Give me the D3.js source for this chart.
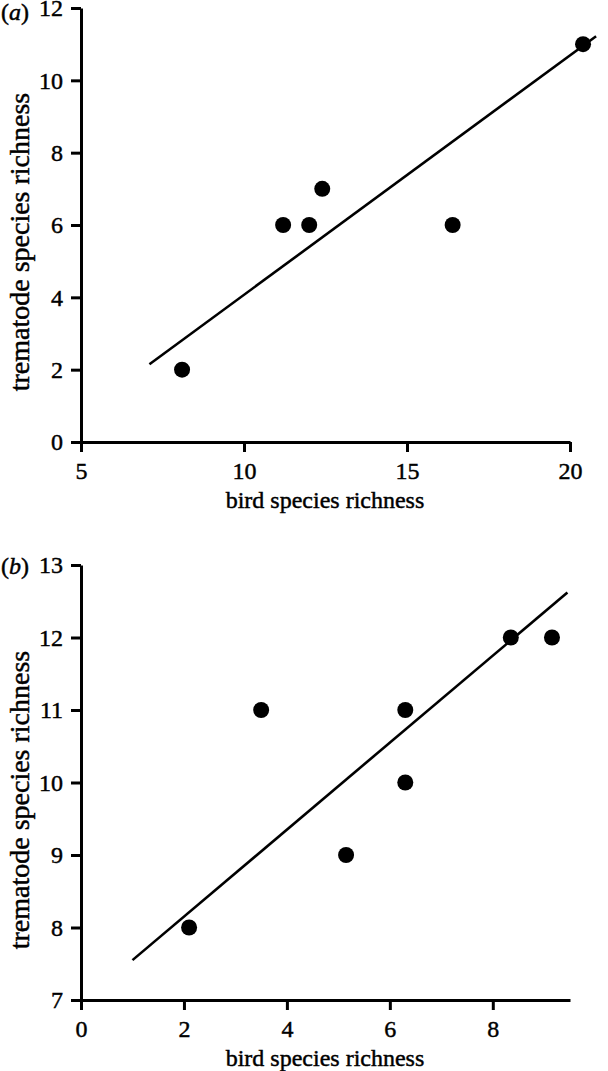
<!DOCTYPE html>
<html>
<head>
<meta charset="utf-8">
<script src="https://cdn.jsdelivr.net/npm/d3@7"></script>
<style>
  html, body { margin: 0; padding: 0; background: #fff; }
  svg { display: block; }
  text { font-family: "Liberation Serif", "Times New Roman", serif; fill: #000; stroke: #000; stroke-width: 0.45px; }
</style>
</head>
<body>
<svg id="chart" width="608" height="1071"></svg>
<script>
// ---- Panel (a) data ----
const birdA = [8.1, 11.2, 12.0, 12.4, 16.4, 20.4];
const tremA = [2, 6, 6, 7, 6, 11];
const fitAx = [7.1, 20.8];
const fitAy = [2.15, 11.22];
const xTicksA = [5, 10, 15, 20];
const yTicksA = [0, 2, 4, 6, 8, 10, 12];

// ---- Panel (b) data ----
const birdB = [2.1, 3.5, 5.15, 6.3, 6.3, 8.35, 9.15];
const tremB = [8, 11, 9, 10, 11, 12, 12];
const fitBx = [1.0, 9.45];
const fitBy = [7.55, 12.62];
const xTicksB = [0, 2, 4, 6, 8];
const yTicksB = [7, 8, 9, 10, 11, 12, 13];

const xLabel = "bird species richness";
const yLabel = "trematode species richness";

const svg = d3.select("#chart");

function panel(cfg) {
  const g = svg.append("g");
  const x = d3.scaleLinear().domain(cfg.xDomain).range([81, 570]);
  const y = d3.scaleLinear().domain(cfg.yDomain).range([cfg.bottom, cfg.top]);

  const xAxis = g.append("g")
    .attr("transform", `translate(0,${cfg.bottom})`)
    .call(d3.axisBottom(x).tickValues(cfg.xTicks).tickSize(10).tickSizeOuter(0).tickPadding(10).tickFormat(d3.format("d")));
  const yAxis = g.append("g")
    .attr("transform", `translate(81,0)`)
    .call(d3.axisLeft(y).tickValues(cfg.yTicks).tickSize(10).tickSizeOuter(0).tickPadding(8).tickFormat(d3.format("d")));

  [xAxis, yAxis].forEach(a => {
    a.selectAll("path.domain").attr("stroke", "#000").attr("stroke-width", 3);
    a.selectAll(".tick line").attr("stroke", "#000").attr("stroke-width", 3);
    a.selectAll(".tick text")
      .style("font-family", '"Liberation Serif", "Times New Roman", serif')
      .style("font-size", "24px")
      .attr("fill", "#000");
  });

  // fit line
  const line = d3.line().x(d => x(d[0])).y(d => y(d[1]));
  g.append("path")
    .datum(d3.zip(cfg.fitX, cfg.fitY))
    .attr("d", line)
    .attr("fill", "none")
    .attr("stroke", "#000")
    .attr("stroke-width", 2.6);

  // points
  g.selectAll("circle.pt")
    .data(d3.zip(cfg.xs, cfg.ys))
    .join("circle")
    .attr("class", "pt")
    .attr("cx", d => x(d[0]))
    .attr("cy", d => y(d[1]))
    .attr("r", 8)
    .attr("fill", "#000");

  // axis titles
  g.append("text")
    .attr("x", 325)
    .attr("y", cfg.bottom + 66)
    .attr("text-anchor", "middle")
    .style("font-size", "24px")
    .text(xLabel);

  g.append("text")
    .attr("transform", `translate(29,${cfg.yLabelCenter}) rotate(-90)`)
    .attr("text-anchor", "middle")
    .style("font-size", "28px")
    .text(yLabel);

  // panel label
  const pl = g.append("text")
    .attr("x", 1)
    .attr("y", cfg.labelY)
    .style("font-size", "24px");
  pl.append("tspan").text("(");
  pl.append("tspan").style("font-style", "italic").text(cfg.letter);
  pl.append("tspan").text(")");
}

panel({
  xDomain: [5, 20], yDomain: [0, 12], top: 8, bottom: 442,
  xTicks: xTicksA, yTicks: yTicksA,
  xs: birdA, ys: tremA, fitX: fitAx, fitY: fitAy,
  yLabelCenter: 242, labelY: 20, letter: "a"
});

panel({
  xDomain: [0, 9.5], yDomain: [7, 13], top: 565, bottom: 1000,
  xTicks: xTicksB, yTicks: yTicksB,
  xs: birdB, ys: tremB, fitX: fitBx, fitY: fitBy,
  yLabelCenter: 800, labelY: 574, letter: "b"
});
</script>
</body>
</html>
